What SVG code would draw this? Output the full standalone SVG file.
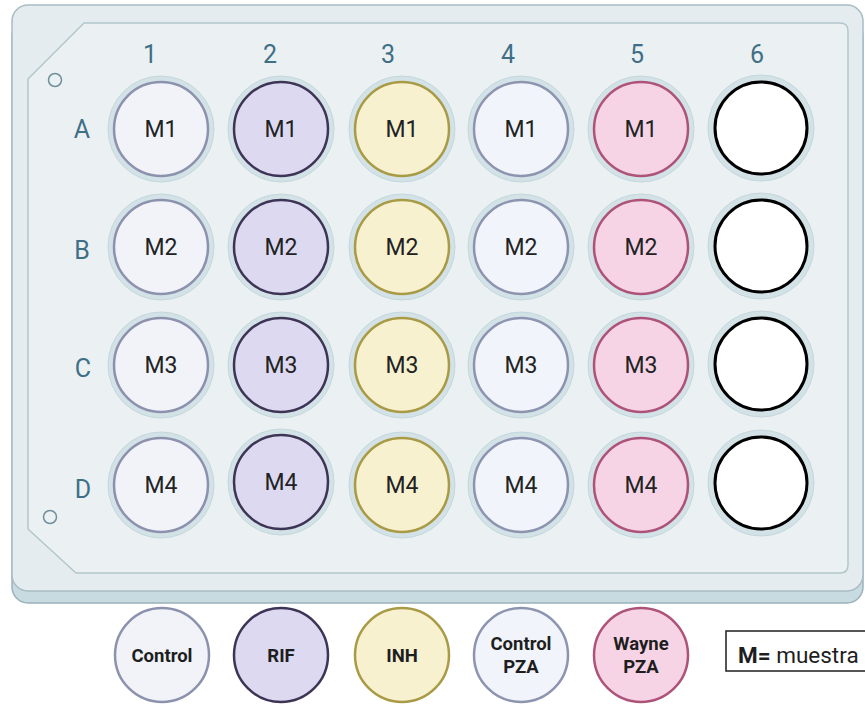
<svg xmlns="http://www.w3.org/2000/svg" width="865" height="706" viewBox="0 0 865 706">
<style>
.lbl{font-family:Roboto,"Liberation Sans",sans-serif;font-size:25px;fill:#3f6f86;text-anchor:middle}
.wt{font-family:Roboto,"Liberation Sans",sans-serif;font-size:23px;fill:#222;text-anchor:middle}
.lt{font-family:Roboto,"Liberation Sans",sans-serif;font-size:18.5px;font-weight:bold;fill:#1e1e1e;text-anchor:middle}
.halo{fill:#d3e2e6;stroke:#c4d7dc;stroke-width:1}
.ctl{fill:#f1f3f9;stroke:#8c92ae;stroke-width:2.5}
.rif{fill:#ddd9f1;stroke:#3e3556;stroke-width:2.5}
.inh{fill:#f7f1d0;stroke:#a99a45;stroke-width:2.5}
.cpz{fill:#f1f4fa;stroke:#8d94b0;stroke-width:2.5}
.way{fill:#f6d4e5;stroke:#ad5379;stroke-width:2.5}
.emp{fill:#ffffff;stroke:#000000;stroke-width:3}
</style>
<rect width="865" height="706" fill="#ffffff"/>
<g id="plate">
<rect x="12" y="20" width="851" height="583" rx="16" fill="#c8dbe0" stroke="#9bb2ba" stroke-width="1.5"/>
<rect x="12" y="5" width="851" height="586" rx="16" fill="#e5ecef" stroke="#a8bcc4" stroke-width="1.5"/>
<path d="M84,23 H840 Q848,23 848,31 V565 Q848,573 840,573 H76 L28,529 V79 Z" fill="#ebf1f3" stroke="#b3c6cd" stroke-width="1.5" stroke-linejoin="round"/>
<circle cx="55" cy="80" r="6.5" fill="none" stroke="#6f8f9c" stroke-width="1.5"/>
<circle cx="50" cy="517" r="6.5" fill="none" stroke="#6f8f9c" stroke-width="1.5"/>
<text class="lbl" x="150" y="63">1</text>
<text class="lbl" x="270" y="63">2</text>
<text class="lbl" x="388" y="63">3</text>
<text class="lbl" x="508" y="63">4</text>
<text class="lbl" x="637" y="63">5</text>
<text class="lbl" x="757" y="63">6</text>
<text class="lbl" x="82" y="138">A</text>
<text class="lbl" x="82" y="259">B</text>
<text class="lbl" x="83" y="377">C</text>
<text class="lbl" x="83" y="498">D</text>
</g>
<g id="wells">
<g id="row-A">
<circle class="halo" cx="161" cy="129" r="53"/><circle class="ctl" cx="161" cy="129" r="47"/><text class="wt" x="161" y="137">M1</text>
<circle class="halo" cx="281" cy="129" r="53"/><circle class="rif" cx="281" cy="129" r="47"/><text class="wt" x="281" y="137">M1</text>
<circle class="halo" cx="402" cy="129" r="53"/><circle class="inh" cx="402" cy="129" r="47"/><text class="wt" x="402" y="137">M1</text>
<circle class="halo" cx="521" cy="129" r="53"/><circle class="cpz" cx="521" cy="129" r="47"/><text class="wt" x="521" y="137">M1</text>
<circle class="halo" cx="641" cy="129" r="53"/><circle class="way" cx="641" cy="129" r="47"/><text class="wt" x="641" y="137">M1</text>
<circle class="halo" cx="761" cy="128" r="53"/><circle class="emp" cx="761" cy="128" r="46"/>
</g>
<g id="row-B">
<circle class="halo" cx="161" cy="247" r="53"/><circle class="ctl" cx="161" cy="247" r="47"/><text class="wt" x="161" y="255">M2</text>
<circle class="halo" cx="281" cy="247" r="53"/><circle class="rif" cx="281" cy="247" r="47"/><text class="wt" x="281" y="255">M2</text>
<circle class="halo" cx="402" cy="247" r="53"/><circle class="inh" cx="402" cy="247" r="47"/><text class="wt" x="402" y="255">M2</text>
<circle class="halo" cx="521" cy="247" r="53"/><circle class="cpz" cx="521" cy="247" r="47"/><text class="wt" x="521" y="255">M2</text>
<circle class="halo" cx="641" cy="247" r="53"/><circle class="way" cx="641" cy="247" r="47"/><text class="wt" x="641" y="255">M2</text>
<circle class="halo" cx="761" cy="246" r="53"/><circle class="emp" cx="761" cy="246" r="46"/>
</g>
<g id="row-C">
<circle class="halo" cx="161" cy="365" r="53"/><circle class="ctl" cx="161" cy="365" r="47"/><text class="wt" x="161" y="373">M3</text>
<circle class="halo" cx="281" cy="365" r="53"/><circle class="rif" cx="281" cy="365" r="47"/><text class="wt" x="281" y="373">M3</text>
<circle class="halo" cx="402" cy="365" r="53"/><circle class="inh" cx="402" cy="365" r="47"/><text class="wt" x="402" y="373">M3</text>
<circle class="halo" cx="521" cy="365" r="53"/><circle class="cpz" cx="521" cy="365" r="47"/><text class="wt" x="521" y="373">M3</text>
<circle class="halo" cx="641" cy="365" r="53"/><circle class="way" cx="641" cy="365" r="47"/><text class="wt" x="641" y="373">M3</text>
<circle class="halo" cx="761" cy="364" r="53"/><circle class="emp" cx="761" cy="364" r="46"/>
</g>
<g id="row-D">
<circle class="halo" cx="161" cy="485" r="53"/><circle class="ctl" cx="161" cy="485" r="47"/><text class="wt" x="161" y="493">M4</text>
<circle class="halo" cx="281" cy="482" r="53"/><circle class="rif" cx="281" cy="482" r="47"/><text class="wt" x="281" y="490">M4</text>
<circle class="halo" cx="402" cy="485" r="53"/><circle class="inh" cx="402" cy="485" r="47"/><text class="wt" x="402" y="493">M4</text>
<circle class="halo" cx="521" cy="485" r="53"/><circle class="cpz" cx="521" cy="485" r="47"/><text class="wt" x="521" y="493">M4</text>
<circle class="halo" cx="641" cy="485" r="53"/><circle class="way" cx="641" cy="485" r="47"/><text class="wt" x="641" y="493">M4</text>
<circle class="halo" cx="761" cy="483" r="53"/><circle class="emp" cx="761" cy="483" r="46"/>
</g>
</g>
<g id="legend">
<g id="leg-control"><circle class="ctl" cx="162" cy="655" r="47" stroke-width="2"/><text class="lt" x="162" y="662">Control</text></g>
<g id="leg-rif"><circle class="rif" cx="281" cy="655" r="47" stroke-width="2"/><text class="lt" x="281" y="662">RIF</text></g>
<g id="leg-inh"><circle class="inh" cx="402" cy="655" r="47" stroke-width="2"/><text class="lt" x="402" y="662">INH</text></g>
<g id="leg-cpza"><circle class="cpz" cx="521" cy="655" r="47" stroke-width="2"/><text class="lt" x="521" y="650">Control</text><text class="lt" x="521" y="673">PZA</text></g>
<g id="leg-wayne"><circle class="way" cx="641" cy="655" r="47" stroke-width="2"/><text class="lt" x="641" y="650">Wayne</text><text class="lt" x="641" y="673">PZA</text></g>
<g id="leg-m"><rect x="726" y="631" width="145" height="40" fill="#ffffff" stroke="#1e1e1e" stroke-width="1.5"/><text x="738" y="663" font-family="Roboto,'Liberation Sans',sans-serif" font-size="22.5" fill="#1e1e1e"><tspan font-weight="bold">M=</tspan> muestra</text></g>
</g>
</svg>
